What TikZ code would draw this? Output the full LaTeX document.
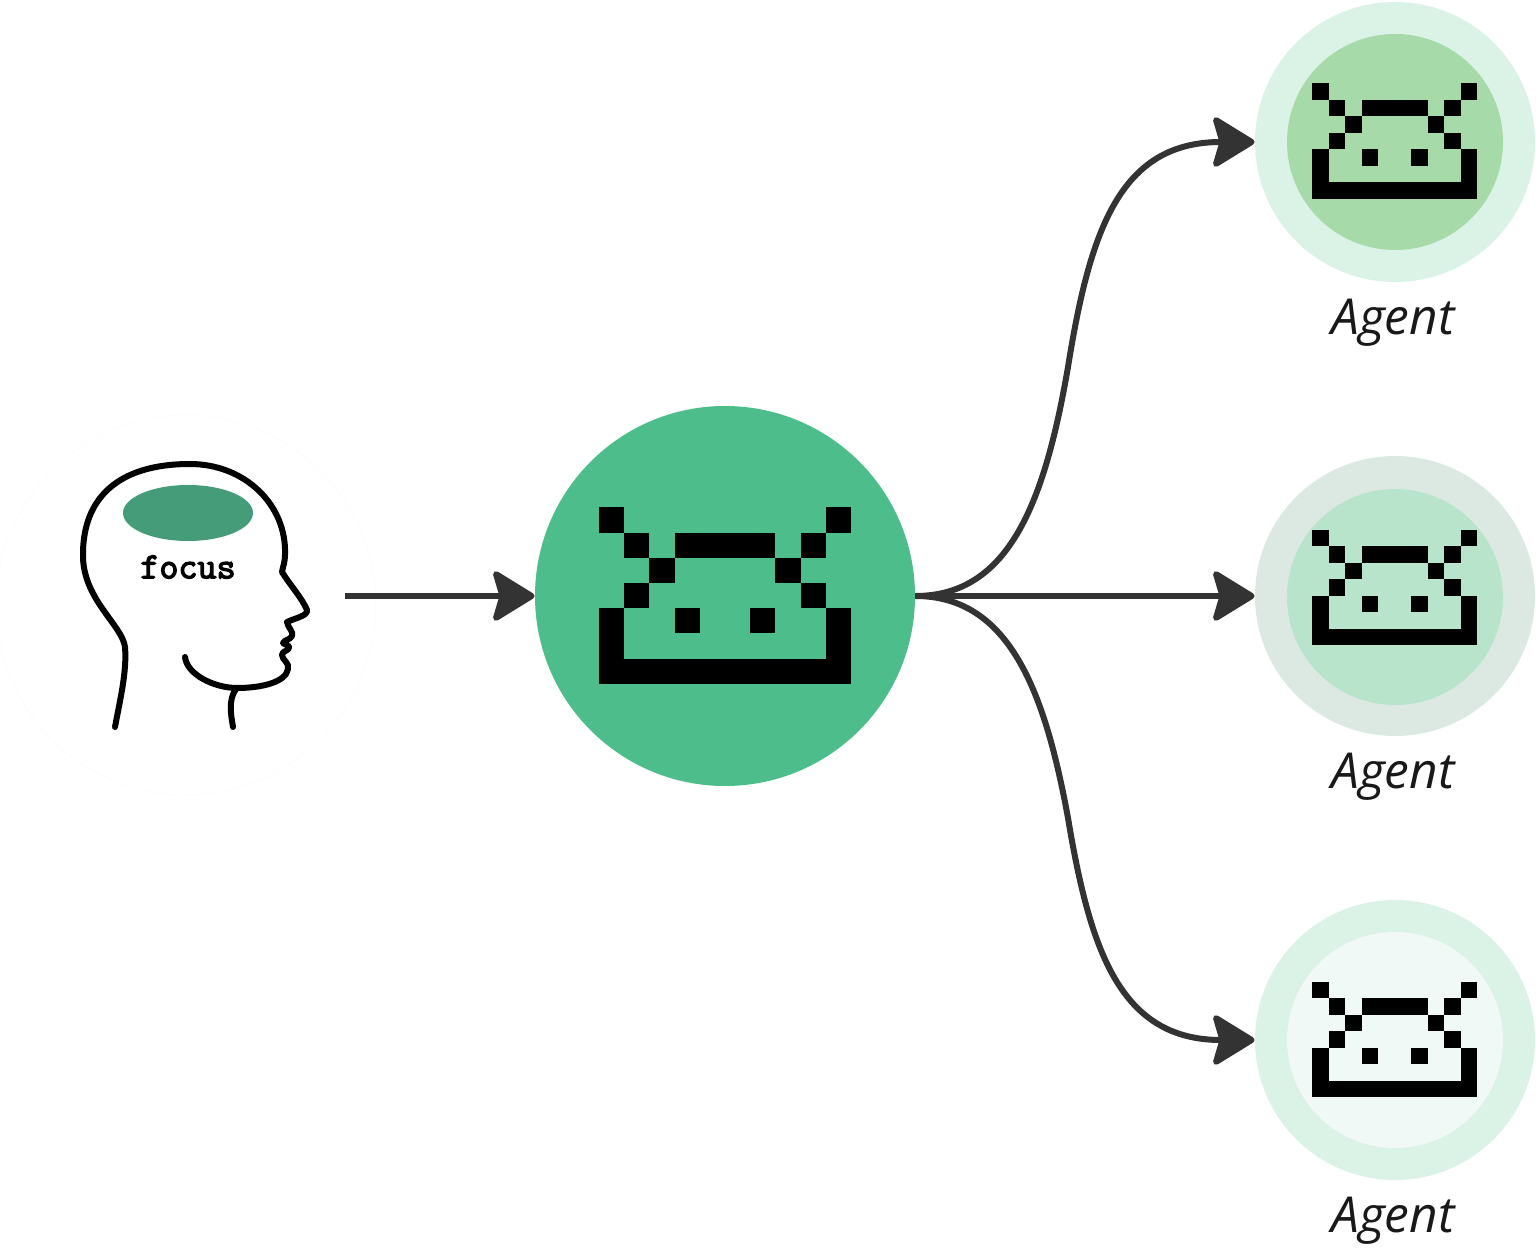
\documentclass[tikz,border=0pt]{standalone}
\usepackage{fontspec}
\setmainfont{Open Sans}
\newfontfamily\focusfont[FakeBold=3.5]{Latin Modern Mono}
\usetikzlibrary{arrows.meta}

\definecolor{mainGreen}{HTML}{4DBE8B}
\definecolor{focusGreen}{HTML}{459C79}
\definecolor{lineGrey}{HTML}{333333}
\definecolor{outerA}{HTML}{DBF2E6}
\definecolor{innerA}{HTML}{A6DAA8}
\definecolor{outerB}{HTML}{DCE9E3}
\definecolor{innerB}{HTML}{B8E4CC}
\definecolor{innerC}{HTML}{F1F9F6}

\tikzset{
  robot/.pic={
    \foreach \i/\j in {0/0,9/0,1/1,8/1,2/2,7/2,1/3,8/3,0/4,9/4,3/4,6/4,0/5,9/5}
      \fill[black] (\i-5,\j-3.5) rectangle +(1,1);
    \fill[black] (-2,-2.5) rectangle (2,-1.5);
    \fill[black] (-5,2.5) rectangle (5,3.5);
  },
  inner/.style={circle,minimum size=108pt,inner sep=0pt},
  outer/.style={circle,minimum size=140pt,inner sep=0pt},
  agentlabel/.style={font=\itshape\fontsize{24.8}{28}\selectfont,text=black!90,inner sep=0pt},
  link/.style={draw=lineGrey,line width=3pt,-{Stealth[length=23pt,width=28pt,inset=4pt,round]}}
}

\begin{document}
\begin{tikzpicture}[x=0.5pt,y=-0.5pt]
\useasboundingbox (0,0) rectangle (1536,1251);

\node[circle,minimum size=190pt,inner sep=0pt,fill=white,draw=black!1,line width=0.4pt] (head) at (186,605) {};
\coordinate (start) at (345,596);

\node[circle,minimum size=190pt,inner sep=0pt,fill=mainGreen] (main) at (725,596) {};
\pic[scale=25.2] at (725,595.5) {robot};

\node[outer,fill=outerA] (agentA) at (1395,142) {};
\node[inner,fill=innerA] (innerA) at (1395,142) {};
\pic[scale=16.5] at (1394.5,141) {robot};
\node[agentlabel] (labelA) at (1393,323) {Agent};

\node[outer,fill=outerB] (agentB) at (1395,596) {};
\node[inner,fill=innerB] (innerB) at (1395,597) {};
\pic[scale=16.5] at (1394.5,587.5) {robot};
\node[agentlabel] (labelB) at (1393,777) {Agent};

\node[outer,fill=outerA] (agentC) at (1395,1040) {};
\node[inner,fill=innerC] (innerC) at (1395,1040) {};
\pic[scale=16.5] at (1394.5,1039.5) {robot};
\node[agentlabel] (labelC) at (1393,1221) {Agent};

% head outline
\draw[line width=3pt,line cap=round,line join=round] (115,727) .. controls (120,700) and (127,672) .. (125,647)
  .. controls (122,625) and (84,600) .. (83,557) .. controls (82,498) and (118,464) .. (190,464)
  .. controls (245,464) and (287,505) .. (285,555) .. controls (285,562) and (283,566) .. (282,572)
  .. controls (290,585) and (302,598) .. (307,610) .. controls (308,616) and (295,618) .. (287,622)
  .. controls (288,628) and (294,632) .. (292,636) .. controls (290,640) and (284,640) .. (283,643)
  .. controls (285,645) and (290,645) .. (289,648) .. controls (288,651) and (282,651) .. (282,655)
  .. controls (282,660) and (290,663) .. (288,669) .. controls (286,682) and (262,688) .. (237,688)
  .. controls (215,688) and (187,675) .. (185,657);
\draw[line width=3pt,line cap=round] (236,689) .. controls (228,700) and (231,715) .. (233,727);
\fill[focusGreen] (188,513) ellipse [x radius=65,y radius=28];
\node[font=\focusfont\fontsize{18.5}{20}\selectfont,inner sep=0pt] (focus) at (188,567) {focus};

% links
\draw[link] (start) -- (main);
\draw[link] (main.east) .. controls (1010,596) and (1045,500) .. (1068,367) .. controls (1090,230) and (1120,142) .. (agentA.west);
\draw[link] (main.east) -- (agentB.west);
\draw[link] (main.east) .. controls (1010,596) and (1045,693) .. (1068,818) .. controls (1090,950) and (1120,1040) .. (agentC.west);
\end{tikzpicture}
\end{document}
